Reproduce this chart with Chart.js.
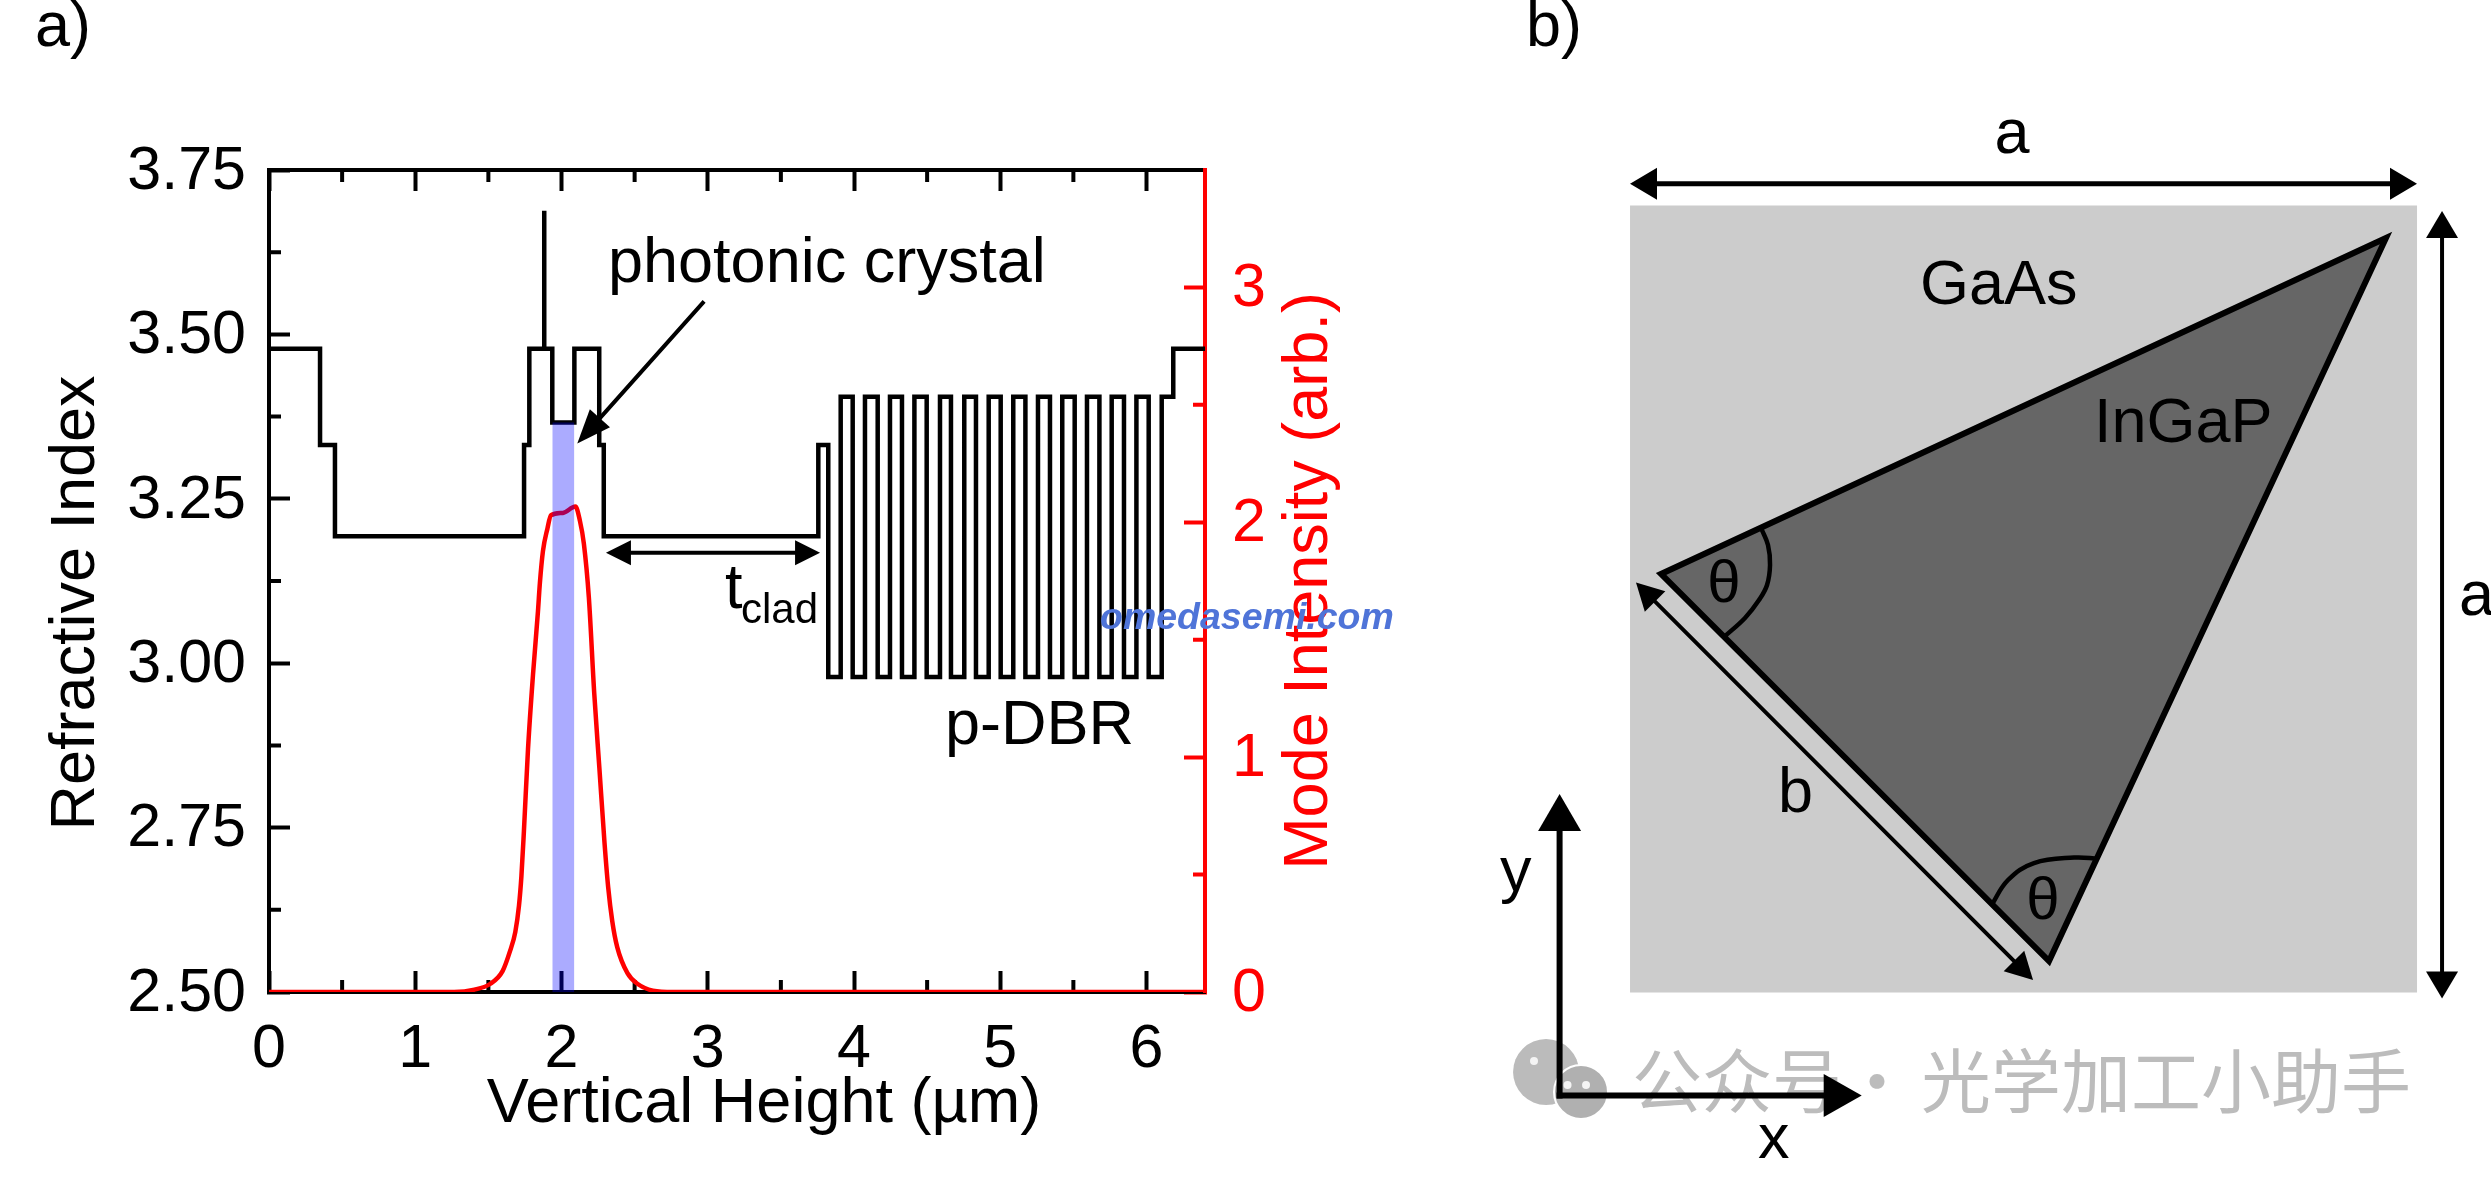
<!DOCTYPE html>
<html>
<head>
<meta charset="utf-8">
<title>Refractive index and mode intensity</title>
<script src="https://cdn.jsdelivr.net/npm/chart.js@4/dist/chart.umd.min.js"></script>
<style>
    html, body { margin: 0; padding: 0; background: #fff; overflow: hidden; }
    #page { position: relative; width: 2491px; height: 1185px; }
    canvas { position: absolute; left: 0; top: 0; }
</style>
</head>
<body>
<div id="page">
    <canvas id="profileChart" width="1400" height="1185"></canvas>
    <canvas id="unitCellChart" width="2491" height="1185"></canvas>
</div>
<script>
// Panel a: refractive index steps (value holds until the next edge)
const indexEdges = [0, 0.349, 0.451, 1.744, 1.78, 1.882, 1.882, 1.937, 2.088, 2.258, 2.289, 3.756, 3.824,
    3.909, 3.991, 4.075, 4.162, 4.246, 4.328, 4.413, 4.497, 4.588, 4.663, 4.754, 4.834, 4.921, 5.003,
    5.089, 5.172, 5.258, 5.340, 5.424, 5.509, 5.593, 5.678, 5.762, 5.846, 5.931, 6.015, 6.104, 6.183, 6.4];
const indexValues = [3.478, 3.332, 3.193, 3.332, 3.478, 3.688, 3.478, 3.366, 3.478, 3.332, 3.193, 3.332, 2.979,
    3.405, 2.979, 3.405, 2.979, 3.405, 2.979, 3.405, 2.979, 3.405, 2.979, 3.405, 2.979, 3.405, 2.979,
    3.405, 2.979, 3.405, 2.979, 3.405, 2.979, 3.405, 2.979, 3.405, 2.979, 3.405, 2.979, 3.405, 3.478, 3.478];

// Panel a: mode intensity
const modeX = [0, 1.265, 1.405, 1.511, 1.597, 1.649, 1.684, 1.709, 1.726, 1.743, 1.771, 1.805, 1.839, 1.852, 1.873, 1.904, 1.928,
    2.01, 2.095, 2.126, 2.153, 2.187, 2.224, 2.259, 2.294, 2.319, 2.347, 2.381, 2.451, 2.521, 2.625, 2.765, 6.4];
const modeY = [0, 0, 0.01, 0.034, 0.089, 0.176, 0.255, 0.366, 0.494, 0.685, 1.034, 1.35, 1.62, 1.74, 1.877, 1.974, 2.03,
    2.04, 2.067, 2.006, 1.909, 1.68, 1.27, 0.953, 0.636, 0.447, 0.302, 0.191, 0.08, 0.034, 0.006, 0, 0];

// Panel a: photonic crystal layer
const crystalX = [1.937, 2.088];
const crystalTop = [3.366, 3.366];

// Panel a: axes
const xTicks = [0, 1, 2, 3, 4, 5, 6];
const xMinorTicks = [0.5, 1.5, 2.5, 3.5, 4.5, 5.5];
const indexTicks = [2.5, 2.75, 3, 3.25, 3.5, 3.75];
const indexMinorTicks = [2.625, 2.875, 3.125, 3.375, 3.625];
const modeTicks = [0, 1, 2, 3];
const modeMinorTicks = [0.5, 1.5, 2.5];

// Panel a: arrows in axis units [x0, index0, x1, index1]
const crystalArrow = [2.966, 3.548, 2.108, 3.334];
const cladArrow = [2.304, 3.168, 3.768, 3.168];

// Panel b: everything in units of the lattice constant a
const squareX = [0, 1, 1, 0, 0];
const squareY = [0, 0, 1, 1, 0];
const triangleX = [0.9606, 0.0394, 0.5324, 0.9606, 0.0394];
const triangleY = [0.9587, 0.5318, 0.040, 0.9587, 0.5318];
const arcLeftX = [0.1665, 0.1753, 0.1779, 0.1741, 0.1639, 0.1461, 0.1194];
const arcLeftY = [0.5902, 0.5686, 0.5432, 0.5178, 0.4987, 0.4759, 0.4517];
const arcBottomX = [0.5956, 0.5642, 0.5133, 0.4803, 0.4587];
const arcBottomY = [0.1701, 0.1715, 0.1645, 0.1429, 0.1099];
const topArrow = [0, 1.0277, 1, 1.0277];
const sideArrow = [1.0318, 0.993, 1.0318, -0.0076];
const edgeArrow = [0.0076, 0.521, 0.5121, 0.0159];
const yAxisArrow = [-0.0895, -0.1309, -0.0895, 0.2522];
const xAxisArrow = [-0.0895, -0.1309, 0.2944, -0.1309];

// Panel b: WeChat watermark bubbles and eyes
const bubbleX = [-0.1067, -0.0623];
const bubbleY = [-0.1010, -0.1264];
const eyeX = [-0.1220, -0.0794, -0.0559];
const eyeY = [-0.0870, -0.1175, -0.1175];

const FONT = '"Liberation Sans", Arial, sans-serif';

function zip(xs, ys) {
    return xs.map((x, i) => ({ x: x, y: ys[i] }));
}

function useTicks(list) {
    return (scale) => { scale.ticks = list.map((v) => ({ value: v })); };
}

function drawText(ctx, item) {
    ctx.save();
    ctx.font = item.font;
    ctx.fillStyle = item.color || '#000';
    ctx.textAlign = item.align || 'left';
    ctx.textBaseline = 'alphabetic';
    ctx.translate(item.x, item.y);
    if (item.rotate) ctx.rotate(item.rotate);
    ctx.fillText(item.text, 0, 0);
    ctx.restore();
}

// Line with a filled head at the end (and at the start when both is set)
function drawArrow(ctx, xScale, yScale, coords, style) {
    const x0 = xScale.getPixelForValue(coords[0]);
    const y0 = yScale.getPixelForValue(coords[1]);
    const x1 = xScale.getPixelForValue(coords[2]);
    const y1 = yScale.getPixelForValue(coords[3]);
    const angle = Math.atan2(y1 - y0, x1 - x0);
    const ux = Math.cos(angle), uy = Math.sin(angle);
    const startCut = style.both ? style.len : 0;

    ctx.save();
    ctx.strokeStyle = '#000';
    ctx.fillStyle = '#000';
    ctx.lineWidth = style.width;
    ctx.lineCap = 'square';
    ctx.beginPath();
    ctx.moveTo(x0 + ux * startCut, y0 + uy * startCut);
    ctx.lineTo(x1 - ux * style.len, y1 - uy * style.len);
    ctx.stroke();

    const head = (tx, ty, dx, dy) => {
        const bx = tx - dx * style.len, by = ty - dy * style.len;
        ctx.beginPath();
        ctx.moveTo(tx, ty);
        ctx.lineTo(bx - dy * style.head / 2, by + dx * style.head / 2);
        ctx.lineTo(bx + dy * style.head / 2, by - dx * style.head / 2);
        ctx.closePath();
        ctx.fill();
    };
    head(x1, y1, ux, uy);
    if (style.both) head(x0, y0, -ux, -uy);
    ctx.restore();
}

// Short inward ticks between the labelled ones
function drawMinorTicks(ctx, scale, values, color, side) {
    const len = 12;
    ctx.save();
    ctx.strokeStyle = color;
    ctx.lineWidth = 4;
    ctx.beginPath();
    values.forEach((v) => {
        const p = scale.getPixelForValue(v);
        if (side === 'bottom') { ctx.moveTo(p, scale.top); ctx.lineTo(p, scale.top - len); }
        if (side === 'top') { ctx.moveTo(p, scale.bottom); ctx.lineTo(p, scale.bottom + len); }
        if (side === 'left') { ctx.moveTo(scale.right, p); ctx.lineTo(scale.right + len, p); }
        if (side === 'right') { ctx.moveTo(scale.left, p); ctx.lineTo(scale.left - len, p); }
    });
    ctx.stroke();
    ctx.restore();
}

const LABEL_FONT = '63px ' + FONT;
const WATERMARK_FONT = '70px "Noto Sans CJK SC"';

const profileLabels = [
    { text: 'a)', x: 35, y: 46, font: LABEL_FONT },
    { text: 'Refractive Index', x: 94, y: 603, font: LABEL_FONT, align: 'center', rotate: -Math.PI / 2 },
    { text: 'Vertical Height (µm)', x: 764, y: 1122, font: LABEL_FONT, align: 'center' },
    { text: 'Mode Intensity (arb.)', x: 1327, y: 581, font: LABEL_FONT, color: '#ff0000', align: 'center', rotate: -Math.PI / 2 },
    { text: 'photonic crystal', x: 608, y: 282, font: LABEL_FONT },
    { text: 't', x: 725, y: 608, font: LABEL_FONT },
    { text: 'clad', x: 741, y: 623, font: '42px ' + FONT },
    { text: 'p-DBR', x: 945, y: 744, font: LABEL_FONT }
];

const profilePlugin = {
    id: 'profileExtras',
    beforeDatasetsDraw(chart) {
        const s = chart.scales;
        drawMinorTicks(chart.ctx, s.x, xMinorTicks, '#000', 'bottom');
        drawMinorTicks(chart.ctx, s.xTop, xMinorTicks, '#000', 'top');
        drawMinorTicks(chart.ctx, s.y, indexMinorTicks, '#000', 'left');
        drawMinorTicks(chart.ctx, s.yMode, modeMinorTicks, '#ff0000', 'right');
    },
    afterDraw(chart) {
        const ctx = chart.ctx, s = chart.scales;
        drawArrow(ctx, s.x, s.y, crystalArrow, { width: 4, len: 34, head: 27 });
        drawArrow(ctx, s.x, s.y, cladArrow, { width: 4, len: 25, head: 25, both: true });
        profileLabels.forEach((item) => drawText(ctx, item));
        // site watermark sits over the plot
        drawText(ctx, { text: 'omedasemi.com', x: 1100, y: 629, font: 'italic bold 37.5px ' + FONT, color: '#4f74d8' });
    }
};

new Chart(document.getElementById('profileChart').getContext('2d'), {
    type: 'scatter',
    data: {
        datasets: [
            {
                label: 'Photonic crystal',
                data: zip(crystalX, crystalTop),
                showLine: true,
                borderWidth: 0,
                pointRadius: 0,
                fill: 'start',
                backgroundColor: 'rgba(0, 0, 255, 0.33)',
                yAxisID: 'y',
                order: 0
            },
            {
                label: 'Mode intensity',
                data: zip(modeX, modeY),
                showLine: true,
                cubicInterpolationMode: 'monotone',
                borderColor: '#ff0000',
                borderWidth: 4.5,
                pointRadius: 0,
                yAxisID: 'yMode',
                order: 1
            },
            {
                label: 'Refractive index',
                data: zip(indexEdges, indexValues),
                showLine: true,
                stepped: 'before',
                borderColor: '#000',
                borderWidth: 4.5,
                pointRadius: 0,
                yAxisID: 'y',
                order: 2
            }
        ]
    },
    options: {
        responsive: false,
        devicePixelRatio: 1,
        animation: false,
        layout: { autoPadding: false, padding: { top: 170 } },
        plugins: { legend: { display: false }, tooltip: { enabled: false } },
        scales: {
            x: {
                type: 'linear',
                position: 'bottom',
                min: 0,
                max: 6.4,
                afterBuildTicks: useTicks(xTicks),
                afterFit: (scale) => { scale.height = 193; },
                border: { color: '#000', width: 4 },
                grid: { drawOnChartArea: false, tickLength: -21, tickWidth: 4, tickColor: '#000' },
                ticks: { color: '#000', padding: 43, maxRotation: 0, autoSkip: false, font: { family: FONT, size: 61 } }
            },
            xTop: {
                type: 'linear',
                position: 'top',
                min: 0,
                max: 6.4,
                afterBuildTicks: useTicks(xTicks),
                afterFit: (scale) => { scale.height = 0; },
                border: { color: '#000', width: 4 },
                grid: { drawOnChartArea: false, tickLength: -21, tickWidth: 4, tickColor: '#000' },
                ticks: { display: false }
            },
            y: {
                type: 'linear',
                position: 'left',
                min: 2.5,
                max: 3.75,
                afterBuildTicks: useTicks(indexTicks),
                afterFit: (scale) => { scale.width = 269; },
                border: { color: '#000', width: 4 },
                grid: { drawOnChartArea: false, tickLength: -21, tickWidth: 4, tickColor: '#000' },
                ticks: {
                    color: '#000',
                    padding: 44,
                    labelOffset: 2,
                    autoSkip: false,
                    font: { family: FONT, size: 61 },
                    callback: (v) => v.toFixed(2)
                }
            },
            yMode: {
                type: 'linear',
                position: 'right',
                min: 0,
                max: 3.5,
                afterBuildTicks: useTicks(modeTicks),
                afterFit: (scale) => { scale.width = 195; },
                border: { color: '#ff0000', width: 4 },
                grid: { drawOnChartArea: false, tickLength: -21, tickWidth: 4, tickColor: '#ff0000' },
                ticks: { color: '#ff0000', padding: 48, labelOffset: 2, autoSkip: false, font: { family: FONT, size: 61 } }
            }
        }
    },
    plugins: [profilePlugin]
});

const unitCellLabels = [
    { text: 'b)', x: 1526, y: 46, font: LABEL_FONT },
    { text: 'a', x: 2012, y: 153, font: LABEL_FONT, align: 'center' },
    { text: 'a', x: 2459, y: 615, font: LABEL_FONT },
    { text: 'GaAs', x: 1920, y: 304, font: LABEL_FONT },
    { text: 'InGaP', x: 2094, y: 442, font: LABEL_FONT },
    { text: 'θ', x: 1724, y: 602, font: '60px ' + FONT, align: 'center' },
    { text: 'θ', x: 2043, y: 919, font: '60px ' + FONT, align: 'center' },
    { text: 'b', x: 1778, y: 812, font: LABEL_FONT },
    { text: 'y', x: 1500, y: 891, font: LABEL_FONT },
    { text: 'x', x: 1758, y: 1158, font: LABEL_FONT }
];

const unitCellPlugin = {
    id: 'unitCellExtras',
    beforeDatasetsDraw(chart) {
        const ctx = chart.ctx;
        drawText(ctx, { text: '公众号', x: 1632, y: 1108, font: WATERMARK_FONT, color: '#bcbcbc' });
        drawText(ctx, { text: '·', x: 1877, y: 1108, font: WATERMARK_FONT, color: '#bcbcbc', align: 'center' });
        drawText(ctx, { text: '光学加工小助手', x: 1921, y: 1108, font: WATERMARK_FONT, color: '#bcbcbc' });
    },
    afterDraw(chart) {
        const ctx = chart.ctx, s = chart.scales;
        drawArrow(ctx, s.x, s.y, topArrow, { width: 5, len: 27, head: 32, both: true });
        drawArrow(ctx, s.x, s.y, sideArrow, { width: 4, len: 27, head: 32, both: true });
        drawArrow(ctx, s.x, s.y, edgeArrow, { width: 4, len: 27, head: 29, both: true });
        drawArrow(ctx, s.x, s.y, yAxisArrow, { width: 6, len: 37, head: 43 });
        drawArrow(ctx, s.x, s.y, xAxisArrow, { width: 6, len: 38, head: 43 });
        unitCellLabels.forEach((item) => drawText(ctx, item));
    }
};

new Chart(document.getElementById('unitCellChart').getContext('2d'), {
    type: 'scatter',
    data: {
        datasets: [
            {
                label: 'WeChat eyes',
                data: zip(eyeX, eyeY),
                pointRadius: 4,
                pointBackgroundColor: '#f4f4f4',
                pointBorderWidth: 0,
                order: 0
            },
            {
                label: 'WeChat bubbles',
                data: zip(bubbleX, bubbleY),
                pointRadius: [33, 27],
                pointBackgroundColor: ['#bbbbbb', '#b0b0b0'],
                pointBorderColor: '#ffffff',
                pointBorderWidth: [0, 2],
                order: 1
            },
            {
                label: 'Arc bottom',
                data: zip(arcBottomX, arcBottomY),
                showLine: true,
                tension: 0.4,
                borderColor: '#000',
                borderWidth: 4.5,
                pointRadius: 0,
                order: 2
            },
            {
                label: 'Arc left',
                data: zip(arcLeftX, arcLeftY),
                showLine: true,
                tension: 0.4,
                borderColor: '#000',
                borderWidth: 4.5,
                pointRadius: 0,
                order: 2
            },
            {
                label: 'InGaP',
                data: zip(triangleX, triangleY),
                showLine: true,
                fill: 'shape',
                backgroundColor: '#666666',
                borderColor: '#000',
                borderWidth: 6,
                pointRadius: 0,
                order: 3
            },
            {
                label: 'GaAs',
                data: zip(squareX, squareY),
                showLine: true,
                fill: 'shape',
                backgroundColor: '#cccccc',
                borderWidth: 0,
                pointRadius: 0,
                order: 4
            }
        ]
    },
    options: {
        responsive: false,
        devicePixelRatio: 1,
        animation: false,
        layout: { autoPadding: false },
        plugins: { legend: { display: false }, tooltip: { enabled: false } },
        scales: {
            x: { type: 'linear', display: false, min: -2.0712, max: 1.094 },
            y: { type: 'linear', display: false, min: -0.2446, max: 1.2611 }
        }
    },
    plugins: [unitCellPlugin]
});
</script>
</body>
</html>
